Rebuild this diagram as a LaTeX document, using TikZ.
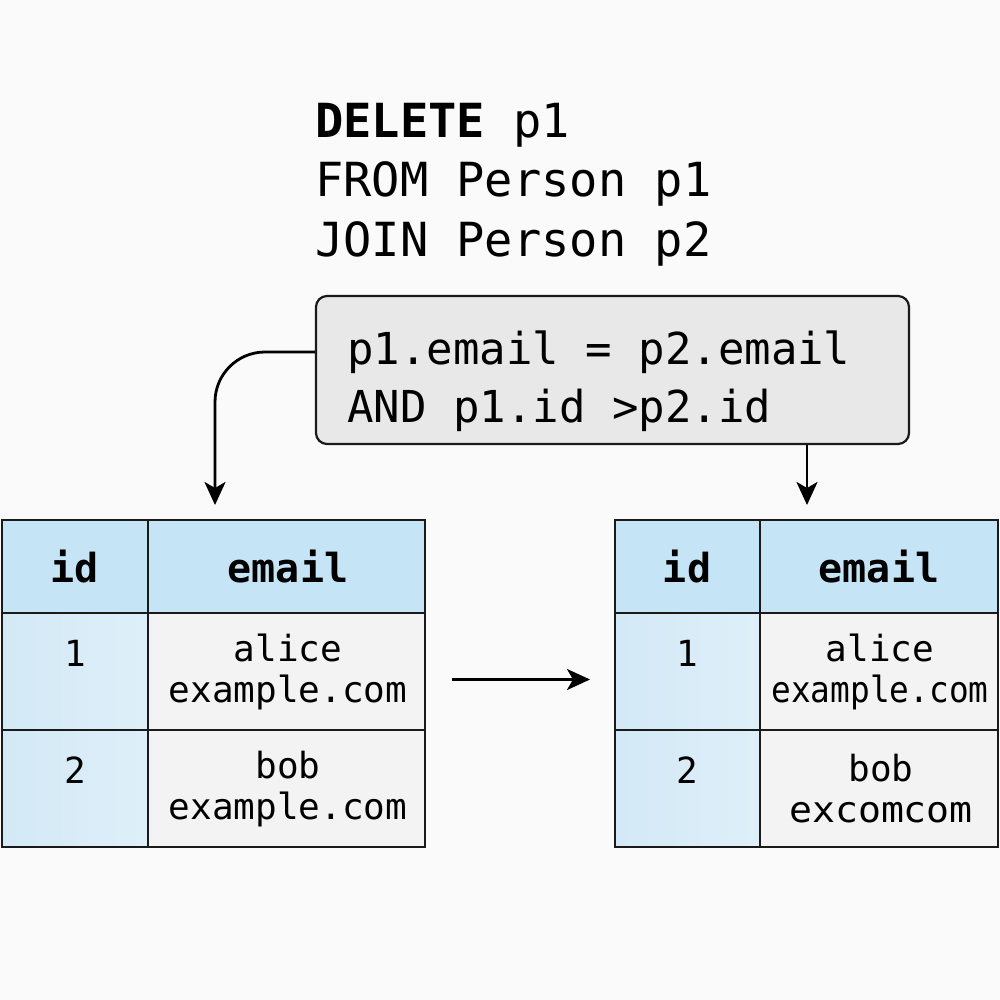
\documentclass[tikz,border=0pt]{standalone}
\usepackage{fontspec}
\setmonofont{DejaVu Sans Mono}
\usetikzlibrary{arrows.meta}
\definecolor{bg}{HTML}{FAFAFA}
\definecolor{hdr}{HTML}{C5E5F6}
\definecolor{idl}{HTML}{D3E9F6}
\definecolor{idr}{HTML}{DEEFF9}
\definecolor{cellg}{HTML}{F3F3F3}
\definecolor{boxg}{HTML}{E8E8E8}
\definecolor{edge}{HTML}{1A1A1A}
\begin{document}
\begin{tikzpicture}[x=1pt,y=-1pt,
  cell/.style={draw=edge, line width=2.2pt, anchor=north west, inner sep=0pt, outer sep=0pt},
  hdrcell/.style={cell, fill=hdr},
  idcell/.style={cell, left color=idl, right color=idr},
  emcell/.style={cell, fill=cellg},
  sqltxt/.style={anchor=base west, inner sep=0pt, font=\fontsize{47}{56}\selectfont\ttfamily},
  condtxt/.style={anchor=base west, inner sep=0pt, font=\fontsize{44}{52}\selectfont\ttfamily},
  hdrtxt/.style={inner sep=0pt, font=\fontsize{40}{48}\selectfont\ttfamily\bfseries},
  bodytxt/.style={inner sep=0pt, align=center, font=\fontsize{36}{41}\selectfont\ttfamily},
  arr/.style={draw=black, line width=2.8pt, -{Stealth[length=23pt,width=21pt,inset=6pt]}}]
\useasboundingbox (0,0) rectangle (1000,1000);
\fill[bg] (0,0) rectangle (1000,1000);

% SQL header
\node[sqltxt] (s1) at (315,138) {\textbf{DELETE} p1};
\node[sqltxt] (s2) at (315,197) {FROM Person p1};
\node[sqltxt] (s3) at (315,256) {JOIN Person p2};

% condition box
\node[draw=edge, fill=boxg, line width=2.2pt, rounded corners=11pt,
      minimum width=593pt, minimum height=148pt, inner sep=0pt] (cond) at (612.5,370) {};
\node[condtxt] (c1) at (347,364) {p1.email = p2.email};
\node[condtxt] (c2) at (347,422) {AND p1.id >p2.id};

% left table
\node[hdrcell, minimum width=146pt, minimum height=93pt] (Lh1) at (2,520) {};
\node[hdrcell, minimum width=277pt, minimum height=93pt] (Lh2) at (148,520) {};
\node[idcell, minimum width=146pt, minimum height=117pt] (Lb1i) at (2,613) {};
\node[emcell, minimum width=277pt, minimum height=117pt] (Lb1e) at (148,613) {};
\node[idcell, minimum width=146pt, minimum height=117pt] (Lb2i) at (2,730) {};
\node[emcell, minimum width=277pt, minimum height=117pt] (Lb2e) at (148,730) {};
\node[hdrtxt] (Lt1) at (75,567) {id};
\node[hdrtxt] (Lt2) at (288,567) {email};
\node[bodytxt] (Lt3) at (75,653) {1};
\node[bodytxt] (Lt4) at (288,672) {alice\\example.com};
\node[bodytxt] (Lt5) at (75,770) {2};
\node[bodytxt] (Lt6) at (288,789) {bob\\example.com};

% right table
\node[hdrcell, minimum width=145pt, minimum height=93pt] (Rh1) at (615,520) {};
\node[hdrcell, minimum width=238pt, minimum height=93pt] (Rh2) at (760,520) {};
\node[idcell, minimum width=145pt, minimum height=117pt] (Rb1i) at (615,613) {};
\node[emcell, minimum width=238pt, minimum height=117pt] (Rb1e) at (760,613) {};
\node[idcell, minimum width=145pt, minimum height=117pt] (Rb2i) at (615,730) {};
\node[emcell, minimum width=238pt, minimum height=117pt] (Rb2e) at (760,730) {};
\node[hdrtxt] (Rt1) at (687,567) {id};
\node[hdrtxt] (Rt2) at (879,567) {email};
\node[bodytxt] (Rt3) at (687,653) {1};
\node[bodytxt] (Rt4) at (880,672) {alice\\\scalebox{0.91}[1]{example.com}};
\node[bodytxt] (Rt5) at (687,770) {2};
\node[bodytxt] (Rt6) at (881,789) {bob\\\scalebox{1.06}[1]{excomcom}};

% connectors
\coordinate (ltip) at (215,505);
\coordinate (rtip) at (807,505);
\draw[arr, rounded corners=50pt] ([yshift=18pt]cond.west) -| (ltip);
\draw[arr] (cond.south -| rtip) -- (rtip);
\draw[arr] ([xshift=27pt,yshift=-8pt]Lb1e.east) -- ([xshift=-25pt,yshift=-8pt]Rb1i.west);
\end{tikzpicture}
\end{document}
